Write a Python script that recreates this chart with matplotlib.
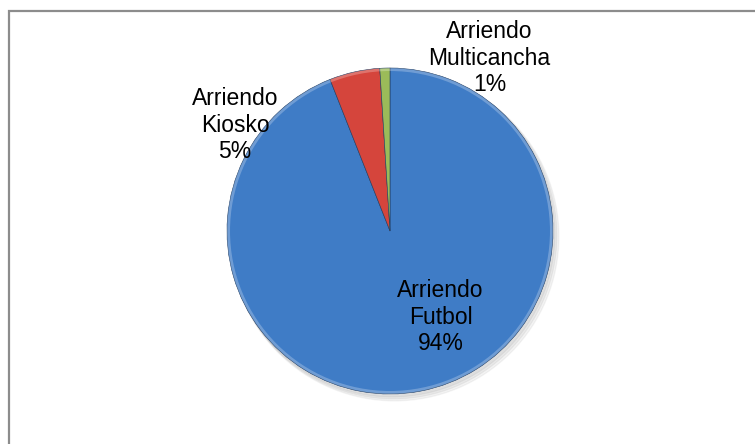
import matplotlib.pyplot as plt
from matplotlib.patches import Rectangle, Circle

# ingresos por arriendo
labels = ['Arriendo\nFutbol', 'Arriendo\nKiosko', 'Arriendo\nMulticancha']
values = [94, 5, 1]
colors = ['#3f7cc6', '#d5453c', '#9bbb59']

# posiciones de las etiquetas (en radios del pie)
label_pos = [(0.31, -0.53), (-0.95, 0.65), (0.61, 1.06)]

plt.rcParams['font.family'] = ['Liberation Sans', 'DejaVu Sans']

fig = plt.figure(figsize=(7.55, 4.44), dpi=100)
W, H = 755, 444
cx, cy, r = 390, 231, 163

# marco del grafico
fig.patches.append(Rectangle((8.5 / W, -0.1), 1.2, (H - 11.5) / H + 0.1,
                             transform=fig.transFigure, fill=False,
                             edgecolor='#8c8c8c', linewidth=1.6))

ax = fig.add_axes([(cx - r) / W, (H - cy - r) / H, 2 * r / W, 2 * r / H])

# sombra
for k in range(3):
    ax.add_patch(Circle((0.012 + 0.008 * k, -0.018 - 0.008 * k), 1.0 + 0.004 * k,
                        color='black', alpha=0.045, zorder=0, clip_on=False))

wedges, _ = ax.pie(values, colors=colors, startangle=90, counterclock=False,
                   radius=1, wedgeprops=dict(edgecolor='#1f3b60', linewidth=0.4))
for w in wedges:
    w.set_zorder(1)

ax.set_xlim(-1, 1)
ax.set_ylim(-1, 1)
ax.set_aspect('equal')
ax.axis('off')

# borde suave
ax.add_patch(Circle((0, 0), 0.99, fill=False, edgecolor='white', alpha=0.25,
                    linewidth=2, zorder=2))

for (x, y), lab, v in zip(label_pos, labels, values):
    ax.text(x, y, '%s\n%d%%' % (lab, v), ha='center', va='center',
            fontsize=16.5, linespacing=1.2, color='black', clip_on=False,
            zorder=3)

fig.savefig('out.png', dpi=100)
